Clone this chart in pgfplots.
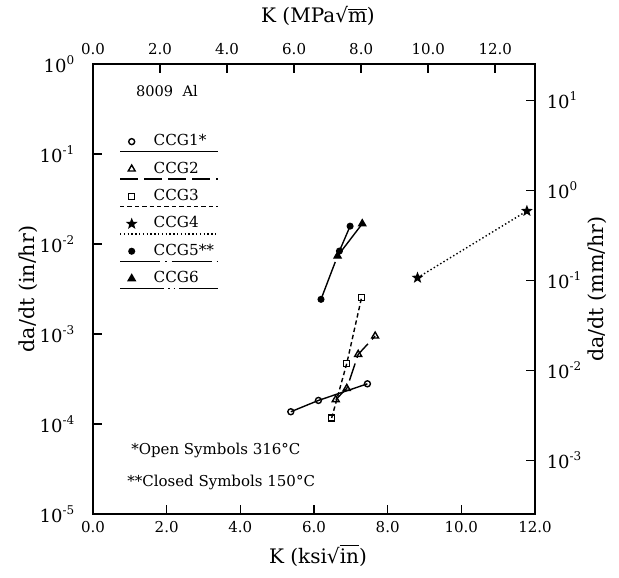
\documentclass[border=0pt]{standalone}
\usepackage{pgfplots}
\pgfplotsset{compat=1.18}
\usepackage{fontspec}
\setmainfont{DejaVu Serif}
\usetikzlibrary{plotmarks}

% filled five point star
\pgfdeclareplotmark{fstar}{%
  \pgfpathmoveto{\pgfpointpolar{90}{\pgfplotmarksize}}%
  \pgfpathlineto{\pgfpointpolar{126}{0.42\pgfplotmarksize}}%
  \pgfpathlineto{\pgfpointpolar{162}{\pgfplotmarksize}}%
  \pgfpathlineto{\pgfpointpolar{198}{0.42\pgfplotmarksize}}%
  \pgfpathlineto{\pgfpointpolar{234}{\pgfplotmarksize}}%
  \pgfpathlineto{\pgfpointpolar{270}{0.42\pgfplotmarksize}}%
  \pgfpathlineto{\pgfpointpolar{306}{\pgfplotmarksize}}%
  \pgfpathlineto{\pgfpointpolar{342}{0.42\pgfplotmarksize}}%
  \pgfpathlineto{\pgfpointpolar{18}{\pgfplotmarksize}}%
  \pgfpathlineto{\pgfpointpolar{54}{0.42\pgfplotmarksize}}%
  \pgfpathclose\pgfusepathqfillstroke}

\newcommand{\logtick}{10\textsuperscript{\pgfmathparse{int(round(\tick))}\pgfmathresult}}
\newcommand{\rt}[1]{√$\overline{\mbox{#1}}$}

\begin{document}
\begin{tikzpicture}
\begin{axis}[name=main,
  scale only axis, width=221pt, height=225pt,
  every axis/.append style={line width=1.1pt},
  xmin=0, xmax=12, ymode=log, log basis y=10, ymin=1e-5, ymax=1,
  xtick pos=left, ytick pos=left,
  major tick length=4.5pt, minor tick length=3pt,
  every major tick/.append style={black, line width=0.8pt},
  every minor tick/.append style={black, line width=0.7pt},
  xtick={0,2,...,12},
  ytick={1e-5,1e-4,1e-3,1e-2,1e-1,1},
  yticklabel={\logtick},
  yticklabel style={font=\fontsize{9}{10}\selectfont, xshift=-5pt},
  xticklabel style={font=\fontsize{7.5}{9}\selectfont,
      /pgf/number format/fixed, /pgf/number format/fixed zerofill,
      /pgf/number format/precision=1, /pgf/number format/assume math mode=true},
  xlabel={K (ksi\rt{in})},
  ylabel={da/dt (in/hr)},
  xlabel style={at={(axis description cs:0.509,-0.092)}, anchor=center, font=\fontsize{10}{11}\selectfont},
  ylabel style={at={(axis description cs:-0.147,0.5)}, anchor=center, font=\fontsize{10.3}{12}\selectfont},
  legend cell align=left,
  legend style={at={(axis description cs:0.074,0.858)}, anchor=north west,
    draw=none, fill=none, inner sep=0pt, outer sep=0pt,
    row sep=0pt, column sep=6pt, font=\fontsize{7.6}{9}\selectfont},
  legend image code/.code={%
    \draw[#1, overlay] (-5.85pt,-5pt) -- (43.15pt,-5pt);
    \draw[#1] plot coordinates {(0pt,0pt)};
    \path[draw=none, fill=none] (-3pt,-6.85pt) rectangle (3pt,6.85pt);},
]
% CCG1 open circles, solid
\addplot[black, line width=0.7pt, mark=o, mark size=1.5pt] coordinates {
  (5.37,1.37e-4) (6.12,1.83e-4) (7.45,2.80e-4)};
\addlegendentry{CCG1*}
% CCG2 open triangles, long dashes
\addplot[black, line width=0.7pt, mark=triangle, mark size=2pt, mark options={solid},
  dash pattern=on 9pt off 3pt] coordinates {
  (6.59,1.87e-4) (6.89,2.49e-4) (7.20,5.95e-4) (7.66,9.5e-4)};
\addlegendentry{CCG2}
% CCG3 open squares, dashed
\addplot[black, line width=0.7pt, mark=square, mark size=1.5pt, mark options={solid},
  dash pattern=on 2.2pt off 1.5pt] coordinates {
  (6.48,1.17e-4) (6.89,4.72e-4) (7.29,2.53e-3)};
\addlegendentry{CCG3}
% CCG4 stars, dotted
\addplot[black, line width=0.7pt, mark=fstar, mark size=2.1pt, mark options={solid},
  dash pattern=on 0.7pt off 1.2pt] coordinates {
  (8.81,4.22e-3) (11.78,2.33e-2)};
\addlegendentry{CCG4}
% CCG5 filled circles, dash dot
\addplot[black, line width=0.7pt, mark=*, mark size=1.4pt, mark options={solid},
  dash pattern=on 20pt off 2.5pt on 0.8pt off 2.5pt] coordinates {
  (6.19,2.43e-3) (6.69,8.36e-3) (6.98,1.58e-2)};
\addlegendentry{CCG5**}
% CCG6 filled triangles, dash dot dot
\addplot[black, line width=0.7pt, mark=triangle*, mark size=2pt, mark options={solid},
  dash pattern=on 22pt off 2pt on 0.8pt off 2pt on 0.8pt off 2pt] coordinates {
  (6.64,7.36e-3) (7.31,1.68e-2)};
\addlegendentry{CCG6}

\node[anchor=west, font=\fontsize{7.3}{9}\selectfont] at (axis description cs:0.080,0.94) {8009\ \ Al};
\node[anchor=west, font=\fontsize{7.5}{9}\selectfont] at (axis description cs:0.069,0.141) {*Open Symbols 316°C};
\node[anchor=west, font=\fontsize{7.5}{9}\selectfont] at (axis description cs:0.060,0.070) {**Closed Symbols 150°C};
\end{axis}

\begin{axis}[
  scale only axis, width=221pt, height=225pt,
  every axis/.append style={line width=1.1pt},
  xmin=0, xmax=13.186, ymode=log, log basis y=10, ymin=2.54e-4, ymax=25.4,
  xtick pos=right, ytick pos=right,
  major tick length=4.5pt, minor tick length=3pt,
  every major tick/.append style={black, line width=0.8pt},
  every minor tick/.append style={black, line width=0.7pt},
  xtick={0,2,...,12},
  ytick={1e-3,1e-2,1e-1,1,10},
  yticklabel={\logtick},
  yticklabel style={font=\fontsize{9}{10}\selectfont, xshift=2pt},
  xticklabel style={font=\fontsize{7.5}{9}\selectfont, yshift=1pt,
      /pgf/number format/fixed, /pgf/number format/fixed zerofill,
      /pgf/number format/precision=1, /pgf/number format/assume math mode=true},
  xlabel={K (MPa\rt{m})},
  ylabel={da/dt (mm/hr)},
  xlabel style={at={(axis description cs:0.509,1.106)}, anchor=center, font=\fontsize{10}{11}\selectfont},
  ylabel style={at={(axis description cs:1.140,0.5)}, anchor=center, font=\fontsize{10.3}{12}\selectfont},
]
\end{axis}
\path ([xshift=-46.5pt,yshift=-31.5pt]main.south west) rectangle ([xshift=42pt,yshift=31.5pt]main.north east);
\end{tikzpicture}
\end{document}
